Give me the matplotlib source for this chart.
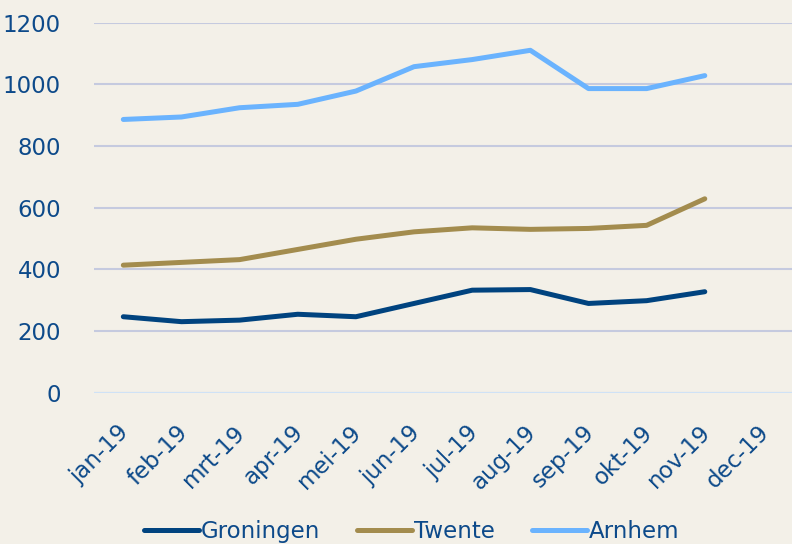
import numpy as np
import matplotlib.pyplot as plt
import matplotlib.transforms as mtransforms

months = ["jan-19", "feb-19", "mrt-19", "apr-19", "mei-19", "jun-19",
          "jul-19", "aug-19", "sep-19", "okt-19", "nov-19", "dec-19"]

# values per month (dec-19 not available yet)
groningen = [247, 231, 236, 255, 247, 290, 333, 335, 290, 299, 328]
twente = [414, 423, 432, 465, 498, 522, 535, 530, 533, 543, 629]
arnhem = [886, 894, 924, 935, 978, 1057, 1080, 1110, 986, 986, 1028]

bg = "#F3F0E8"
txt = "#0D4A8A"

fig = plt.figure(figsize=(7.92, 5.44), dpi=100, facecolor=bg)
ax = fig.add_axes([0.119, 0.2776, 0.881, 0.681])
ax.set_facecolor(bg)

x = np.arange(len(months))
lw = 3.6
ax.plot(x[:len(groningen)], groningen, color="#00437F", lw=lw, label="Groningen", solid_capstyle="round")
ax.plot(x[:len(twente)], twente, color="#A38C4E", lw=lw, label="Twente", solid_capstyle="round")
ax.plot(x[:len(arnhem)], arnhem, color="#6AB3FE", lw=lw, label="Arnhem", solid_capstyle="round")

ax.set_xlim(-0.5, len(months) - 0.5)
ax.set_ylim(0, 1200)
ax.set_yticks(np.arange(0, 1201, 200))
ax.yaxis.grid(True, color="#C5CADF", lw=1.5)
ax.set_axisbelow(True)
ax.axhline(0, color="#CFE2F6", lw=1.5, zorder=1)
for s in ax.spines.values():
    s.set_visible(False)

ax.set_xticks(x)
ax.set_xticklabels(months, rotation=45, ha="right", rotation_mode="anchor")
ax.tick_params(axis="both", length=0, colors=txt, labelsize=16.5)
ax.tick_params(axis="y", pad=24)
ax.tick_params(axis="x", pad=20)

# nudge x labels slightly left, like the original
offset = mtransforms.ScaledTranslation(-4 / 72, 0, fig.dpi_scale_trans)
for lab in ax.get_xticklabels():
    lab.set_transform(lab.get_transform() + offset)

leg = fig.legend(loc="center", bbox_to_anchor=(0.52, 0.023), ncol=3, frameon=False,
                 fontsize=16.5, handlelength=2.4, handletextpad=0.1, columnspacing=1.6)
for t in leg.get_texts():
    t.set_color(txt)

fig.savefig("out.png", dpi=100, facecolor=bg)
